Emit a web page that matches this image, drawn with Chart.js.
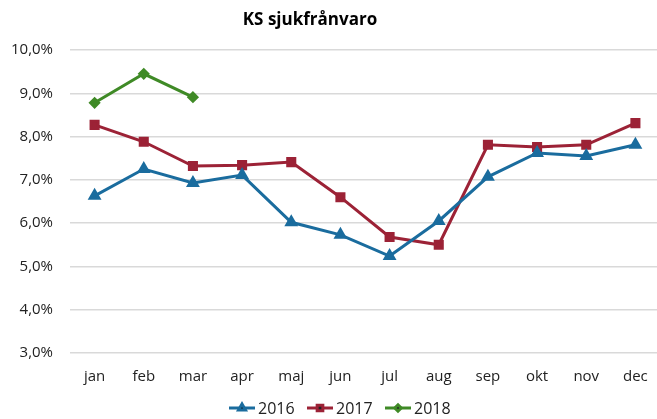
<!DOCTYPE html>
<html>
<head>
<meta charset="utf-8">
<script src="https://cdn.jsdelivr.net/npm/chart.js@4"></script>
<style>
  html, body { margin: 0; padding: 0; background: #fff; overflow: hidden; }
  body { width: 657px; height: 419px; position: relative; }
  /* canvas a bit wider than the window so the plot reaches the edges like the original */
  #wrap { width: 674px; height: 419px; position: absolute; left: -6px; top: 0; }
</style>
</head>
<body>
<div id="wrap"><canvas id="lineChart"></canvas></div>
<script>
const months = ["jan", "feb", "mar", "apr", "maj", "jun", "jul", "aug", "sep", "okt", "nov", "dec"];
const values2016 = [6.63, 7.25, 6.93, 7.11, 6.02, 5.73, 5.24, 6.05, 7.07, 7.62, 7.55, 7.81];
const values2017 = [8.27, 7.88, 7.32, 7.34, 7.41, 6.6, 5.68, 5.5, 7.81, 7.76, 7.81, 8.31];
const values2018 = [8.78, 9.45, 8.91];
const yTicks = [3, 4, 5, 6, 7, 8, 9, 10];

const fontFamily = "'Open Sans', 'Noto Sans', sans-serif";

// title + legend drawn by hand so they sit where the reference has them
const decorations = {
  id: "decorations",
  afterDraw(chart) {
    const c = chart.ctx;
    c.save();
    c.fillStyle = "#000";
    c.font = "bold 17px " + fontFamily;
    c.textAlign = "center";
    c.textBaseline = "middle";
    c.fillText("KS sjukfrånvaro", 316, 20);

    const items = chart.data.datasets;
    const itemX = [235, 313, 391];
    const y = 408;
    c.font = "16px " + fontFamily;
    c.textAlign = "left";
    items.forEach((ds, i) => {
      const x = itemX[i];
      c.strokeStyle = ds.borderColor;
      c.lineWidth = 3;
      c.beginPath();
      c.moveTo(x, y);
      c.lineTo(x + 26, y);
      c.stroke();
      Chart.helpers.drawPoint(c, {
        pointStyle: ds.pointStyle,
        radius: ds.pointRadius * 0.8,
        borderWidth: 1,
      }, x + 13, y);
      c.fillStyle = "#222";
      c.fillText(ds.label, x + 29, y + 1);
    });
    c.restore();
  }
};

const ctx = document.getElementById("lineChart");
new Chart(ctx, {
  type: "line",
  data: {
    labels: months,
    datasets: [
      {
        label: "2016",
        data: values2016,
        borderColor: "#1a6c9e",
        backgroundColor: "#1a6c9e",
        pointStyle: "triangle",
        pointRadius: 5,
        borderWidth: 3,
      },
      {
        label: "2017",
        data: values2017,
        borderColor: "#9c2236",
        backgroundColor: "#9c2236",
        pointStyle: "rect",
        pointRadius: 5,
        borderWidth: 3,
      },
      {
        label: "2018",
        data: values2018,
        borderColor: "#3f8a26",
        backgroundColor: "#3f8a26",
        pointStyle: "rectRot",
        pointRadius: 4,
        borderWidth: 3,
      },
    ],
  },
  options: {
    responsive: true,
    maintainAspectRatio: false,
    animation: false,
    devicePixelRatio: 1,
    layout: { padding: { top: 50, left: 0, right: 0, bottom: 18 } },
    elements: { line: { tension: 0 }, point: { borderWidth: 1 } },
    plugins: {
      legend: { display: false },
      title: { display: false },
      tooltip: { enabled: false },
    },
    scales: {
      x: {
        offset: true,
        grid: { display: false, drawTicks: false },
        border: { display: false },
        ticks: { color: "#222", font: { family: fontFamily, size: 15 }, padding: 15 },
      },
      y: {
        min: 3,
        max: 10,
        afterBuildTicks(axis) {
          axis.ticks = yTicks.map(v => ({ value: v }));
        },
        grid: { color: "#d9d9d9", lineWidth: 1.5, drawTicks: false },
        border: { display: false },
        ticks: {
          color: "#222",
          font: { family: fontFamily, size: 15 },
          padding: 17,
          callback: v => v.toFixed(1).replace(".", ",") + "%",
        },
      },
    },
  },
  plugins: [decorations],
});
</script>
</body>
</html>
